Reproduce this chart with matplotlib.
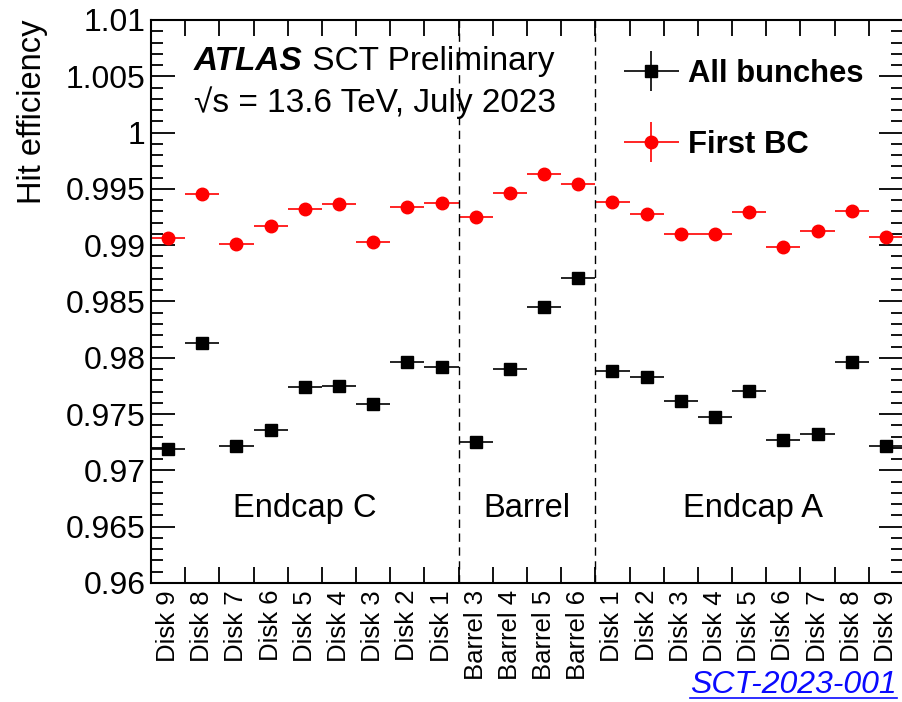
import matplotlib
matplotlib.use("Agg")
import matplotlib.pyplot as plt
from matplotlib.legend_handler import HandlerErrorbar
from matplotlib.lines import Line2D
from matplotlib.ticker import MultipleLocator, FuncFormatter

plt.rcParams['font.family'] = ['Liberation Sans', 'DejaVu Sans']

# layer labels, left to right
layers = ["Disk 9", "Disk 8", "Disk 7", "Disk 6", "Disk 5", "Disk 4", "Disk 3", "Disk 2", "Disk 1",
          "Barrel 3", "Barrel 4", "Barrel 5", "Barrel 6",
          "Disk 1", "Disk 2", "Disk 3", "Disk 4", "Disk 5", "Disk 6", "Disk 7", "Disk 8", "Disk 9"]

all_bunches = [0.97193, 0.98134, 0.97214, 0.97362, 0.97738, 0.97752, 0.97593, 0.97966, 0.97918,
               0.97255, 0.97897, 0.98454, 0.98710,
               0.97883, 0.97829, 0.97613, 0.97477, 0.97708, 0.97273, 0.97320, 0.97963, 0.97220]

first_bc = [0.99067, 0.99452, 0.99011, 0.99170, 0.99319, 0.99369, 0.99025, 0.99339, 0.99375,
            0.99250, 0.99466, 0.99629, 0.99544,
            0.99381, 0.99274, 0.99102, 0.99099, 0.99295, 0.98987, 0.99126, 0.99304, 0.99076]

err_all = [0.00008] * len(layers)
err_first = [0.00015] * len(layers)

regions = ["Endcap C", "Barrel", "Endcap A"]
region_centers = [4.5, 11.0, 17.6]
region_edges = [9, 13]

centers = [i + 0.5 for i in range(len(layers))]

fig = plt.figure(figsize=(9.02, 7.02), dpi=100)
ax = fig.add_axes([151/902, 1 - 583/702, 752/902, 563/702])

eb_all = ax.errorbar(centers, all_bunches, xerr=0.5, yerr=err_all, fmt='s', color='black',
                     ms=8.5, elinewidth=1.2, capsize=0, label="All bunches")
eb_first = ax.errorbar(centers, first_bc, xerr=0.5, yerr=err_first, fmt='o', color='red',
                       ms=9, elinewidth=1.2, capsize=0, label="First BC")

for xe in region_edges:
    ax.axvline(xe, color='black', lw=1.0, ls=(0, (6, 4)))

ax.set_xlim(0, len(layers))
ax.set_ylim(0.96, 1.01)

# y axis ticks, ROOT style
ax.yaxis.set_major_locator(MultipleLocator(0.005))
ax.yaxis.set_minor_locator(MultipleLocator(0.001))
ax.yaxis.set_major_formatter(FuncFormatter(lambda v, p: "%g" % round(v, 4)))
ax.tick_params(axis='y', which='major', direction='in', length=17, width=1.3,
               labelsize=23, right=True, pad=4)
ax.tick_params(axis='y', which='minor', direction='in', length=8.5, width=1.3, right=True)

# x axis: ticks at bin edges, labels at bin centres
ax.set_xticks(range(0, len(layers) + 1))
ax.set_xticklabels([])
ax.set_xticks(centers, minor=True)
ax.set_xticklabels(layers, minor=True, rotation=90, fontsize=18.5)
ax.tick_params(axis='x', which='major', direction='in', length=11.5, width=1.3, top=True)
ax.tick_params(axis='x', which='minor', length=0, pad=5)

for s in ax.spines.values():
    s.set_linewidth(1.5)

ax.set_ylabel("Hit efficiency", fontsize=23.5, loc='top')
ax.yaxis.set_label_coords(-0.137, 1.0)

t1 = ax.text(0.057, 0.911, "ATLAS", transform=ax.transAxes, fontsize=24,
             fontweight='bold', fontstyle='italic', va='baseline')
ax.annotate(" SCT Preliminary", xy=(1, 0), xycoords=t1, fontsize=24, va='bottom')
ax.text(0.057, 0.837, "√s = 13.6 TeV, July 2023", transform=ax.transAxes,
        fontsize=24, va='baseline')

for name, xc in zip(regions, region_centers):
    ax.text(xc, 0.96665, name, fontsize=23.5, ha='center', va='center')

hmap = {eb_all: HandlerErrorbar(xerr_size=0.89, yerr_size=0.65),
        eb_first: HandlerErrorbar(xerr_size=0.89, yerr_size=0.65)}
ax.legend(handles=[eb_all, eb_first], loc='upper left', bbox_to_anchor=(0.591, 0.981),
          frameon=False, handler_map=hmap, handlelength=1.8, handletextpad=0.3,
          labelspacing=1.33, prop={'size': 22.3, 'weight': 'bold'})

fig.text(897/902, 1 - 693/702, "SCT-2023-001", color='#0a0aff', fontsize=23,
         fontstyle='italic', ha='right', va='baseline')
fig.add_artist(Line2D([690/902, 897/902], [1 - 698/702, 1 - 698/702],
                      transform=fig.transFigure, color='#0a0aff', lw=1.2))

fig.savefig("out.png", dpi=100)
